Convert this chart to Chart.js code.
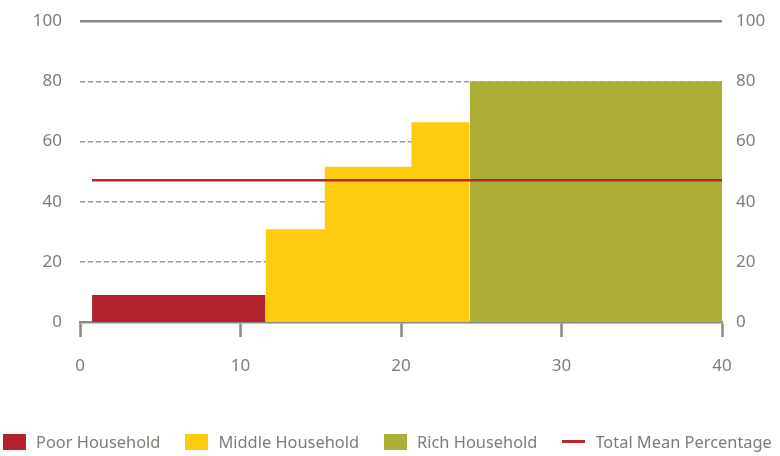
<!DOCTYPE html>
<html>
<head>
<meta charset="utf-8">
<script src="https://cdn.jsdelivr.net/npm/chart.js@4.4.0/dist/chart.umd.min.js"></script>
<style>
  html, body { margin: 0; padding: 0; background: #fff; overflow: hidden; }
  #wrap { position: relative; width: 780px; height: 456px; overflow: hidden; }
  #chart { position: absolute; left: 0; top: -7px; }
  #legend {
    position: absolute; left: 3px; top: 430px;
    display: flex; align-items: center; gap: 25px;
    font-family: "Noto Sans", sans-serif; font-size: 16.4px; color: #7d7d75;
    white-space: nowrap;
  }
  .item { display: flex; align-items: center; }
  .swatch { width: 23px; height: 16px; margin-right: 10px; }
  .swatch.line { height: 3px; margin-right: 10px; }
</style>
</head>
<body>
<div id="wrap">
  <canvas id="chart" width="780" height="463"></canvas>
  <div id="legend"></div>
</div>
<script>
// each group: x = cumulative household share where a step starts, y = percentage
const poorX = [0.75, 11.56];
const poorY = [9, 9];
const middleX = [11.56, 15.25, 20.65, 24.28];
const middleY = [30.8, 51.6, 66.4, 66.4];
const richX = [24.28, 40];
const richY = [80, 80];
const meanX = [0.75, 40];
const meanY = [47.1, 47.1];

const xTicks = [0, 10, 20, 30, 40];
const yTicks = [0, 20, 40, 60, 80, 100];

const seriesNames = ['Poor Household', 'Middle Household', 'Rich Household', 'Total Mean Percentage'];
const seriesColors = ['#b3212f', '#fdcb10', '#adae37', '#b5262f'];

const textColor = '#7d7d75';
const axisColor = '#8a8a82';

function points(xs, ys) {
  return xs.map((x, i) => ({ x: x, y: ys[i] }));
}

function stepArea(label, xs, ys, color) {
  return {
    label: label,
    data: points(xs, ys),
    stepped: true,
    fill: 'origin',
    backgroundColor: color,
    borderColor: color,
    borderWidth: 0,
    pointRadius: 0,
    order: 2
  };
}

const datasets = [
  stepArea(seriesNames[0], poorX, poorY, seriesColors[0]),
  stepArea(seriesNames[1], middleX, middleY, seriesColors[1]),
  stepArea(seriesNames[2], richX, richY, seriesColors[2]),
  {
    label: seriesNames[3],
    data: points(meanX, meanY),
    borderColor: seriesColors[3],
    borderWidth: 2.5,
    pointRadius: 0,
    fill: false,
    order: 1
  }
];

const tickFont = { family: 'Noto Sans', size: 17 };

new Chart(document.getElementById('chart'), {
  type: 'line',
  data: { datasets: datasets },
  options: {
    responsive: false,
    animation: false,
    layout: { padding: { top: 3, bottom: 0, left: 0, right: 0 } },
    plugins: { legend: { display: false }, tooltip: { enabled: false } },
    scales: {
      x: {
        type: 'linear',
        min: 0, max: 40,
        afterBuildTicks: s => { s.ticks = xTicks.map(v => ({ value: v })); },
        afterFit: s => { s.height = 134; },
        grid: {
          drawOnChartArea: false,
          drawTicks: true,
          tickLength: 15,
          tickWidth: 2.5,
          tickColor: axisColor
        },
        border: { display: true, color: axisColor, width: 2.5 },
        ticks: { color: textColor, font: tickFont, padding: 19, maxRotation: 0 }
      },
      y: {
        position: 'left',
        min: 0, max: 100,
        afterBuildTicks: s => { s.ticks = yTicks.map(v => ({ value: v })); },
        afterFit: s => { s.width = 80; },
        grid: {
          drawTicks: false,
          color: c => c.tick.value === 0 ? 'rgba(0,0,0,0)' : (c.tick.value === 100 ? axisColor : '#9a9a94'),
          lineWidth: c => c.tick.value === 100 ? 2.5 : 1.5
        },
        border: {
          display: false,
          dash: c => c.tick && c.tick.value === 100 ? [] : [5, 3]
        },
        ticks: { color: textColor, font: tickFont, padding: 18 }
      },
      y2: {
        position: 'right',
        min: 0, max: 100,
        afterBuildTicks: s => { s.ticks = yTicks.map(v => ({ value: v })); },
        afterFit: s => { s.width = 58; },
        grid: { display: false, drawTicks: false },
        border: { display: false },
        ticks: { color: textColor, font: tickFont, padding: 14 }
      }
    }
  }
});

// legend built from the same series names and colours
const legend = document.getElementById('legend');
seriesNames.forEach((name, i) => {
  const item = document.createElement('div');
  item.className = 'item';
  const sw = document.createElement('span');
  sw.className = i === 3 ? 'swatch line' : 'swatch';
  sw.style.background = seriesColors[i];
  const txt = document.createElement('span');
  txt.textContent = name;
  item.appendChild(sw);
  item.appendChild(txt);
  legend.appendChild(item);
});
</script>
</body>
</html>
